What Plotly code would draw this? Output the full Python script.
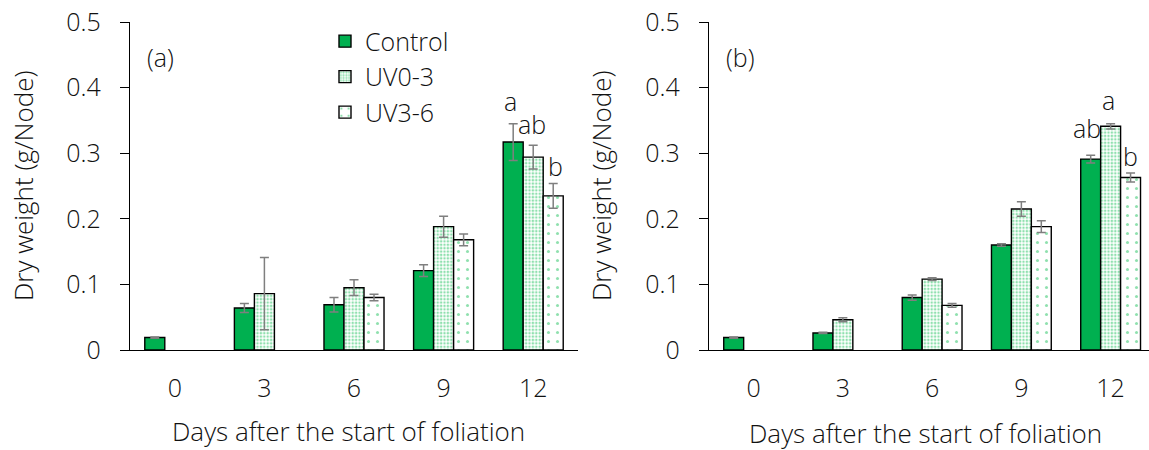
import plotly.graph_objects as go

days = ["0", "3", "6", "9", "12"]

# Panel (a)
a_control = [0.019, 0.064, 0.069, 0.121, 0.317]
a_control_err = [0.001, 0.007, 0.011, 0.009, 0.028]
a_uv03 = [None, 0.086, 0.095, 0.188, 0.294]
a_uv03_err = [0, 0.055, 0.012, 0.016, 0.018]
a_uv36 = [None, None, 0.080, 0.168, 0.235]
a_uv36_err = [0, 0, 0.005, 0.009, 0.019]

# Panel (b)
b_control = [0.019, 0.026, 0.080, 0.160, 0.291]
b_control_err = [0.001, 0.001, 0.004, 0.002, 0.006]
b_uv03 = [None, 0.046, 0.108, 0.215, 0.341]
b_uv03_err = [0, 0.003, 0.002, 0.011, 0.004]
b_uv36 = [None, None, 0.068, 0.188, 0.263]
b_uv36_err = [0, 0, 0.003, 0.009, 0.007]

# Significance letters for day 12
a_letters = ["a", "ab", "b"]
b_letters = ["ab", "a", "b"]

GREEN = "#00b050"
DOT = "#1fc25e"
FONT = "Open Sans"
TXT = "#111111"
W, H = 1149, 450
TOP, BOTTOM = 22, 350          # pixel rows of the plot area


def py(pixel_row):
    """Pixel row -> paper y (paper spans the plot area vertically)."""
    return (BOTTOM - pixel_row) / (BOTTOM - TOP)


def font(size):
    return dict(family=FONT, size=size, color=TXT, weight=300)


fig = go.Figure()


def add_panel(xa, ya, ctrl, ctrl_e, uv1, uv1_e, uv2, uv2_e, show_legend):
    common = dict(xaxis=xa, yaxis=ya, marker_line_color="black", marker_line_width=1.4)
    err = dict(type="data", visible=True, color="#7f7f7f", thickness=1.5, width=4.5)
    fig.add_trace(go.Bar(x=days, y=ctrl, name="Control", showlegend=show_legend,
                         marker_color=GREEN, error_y=dict(array=ctrl_e, **err), **common))
    fig.add_trace(go.Bar(x=days, y=uv1, name="UV0-3", showlegend=show_legend,
                         marker=dict(color="white",
                                     pattern=dict(shape=".", fgcolor=DOT, bgcolor="white",
                                                  size=3.4, solidity=0.45)),
                         error_y=dict(array=uv1_e, **err), **common))
    fig.add_trace(go.Bar(x=days, y=uv2, name="UV3-6", showlegend=show_legend,
                         marker=dict(color="white",
                                     pattern=dict(shape=".", fgcolor=DOT, bgcolor="white",
                                                  size=9, solidity=0.09)),
                         error_y=dict(array=uv2_e, **err), **common))


add_panel("x", "y", a_control, a_control_err, a_uv03, a_uv03_err, a_uv36, a_uv36_err, True)
add_panel("x2", "y2", b_control, b_control_err, b_uv03, b_uv03_err, b_uv36, b_uv36_err, False)

xaxis_style = dict(type="category", showline=True, linecolor="black",
                   linewidth=1.4, ticks="", showgrid=False, zeroline=False,
                   ticklabelstandoff=16, tickfont=font(25))
yaxis_style = dict(range=[0, 0.5], dtick=0.1, tickformat="~g", showline=True, linecolor="black",
                   linewidth=1.4, ticks="outside", ticklen=9, tickcolor="black", tickwidth=1.4,
                   showgrid=False, zeroline=False, ticklabelstandoff=14,
                   tickfont=font(25))

annotations = []

# Day-12 letters: anchored on each bar's error-bar top, nudged in pixels
a_tops = [a_control[4] + a_control_err[4], a_uv03[4] + a_uv03_err[4], a_uv36[4] + a_uv36_err[4]]
b_tops = [b_control[4] + b_control_err[4], b_uv03[4] + b_uv03_err[4], b_uv36[4] + b_uv36_err[4]]
a_nudge = [(-23, 4), (-1, 2), (22, -2)]
b_nudge = [(-24, 8), (-2, 5), (20, -2)]
for letters, tops, nudge, xr, yr in ((a_letters, a_tops, a_nudge, "x", "y"),
                                     (b_letters, b_tops, b_nudge, "x2", "y2")):
    for letter, top, (dx, dy) in zip(letters, tops, nudge):
        annotations.append(dict(x=4, y=top, xref=xr, yref=yr, text=letter, showarrow=False,
                                xshift=dx, yshift=dy, xanchor="center", yanchor="bottom",
                                font=font(25)))

annotations += [
    dict(x=145 / W, y=py(57), xref="paper", yref="paper", text="(a)", showarrow=False,
         xanchor="left", yanchor="middle", font=font(25)),
    dict(x=724 / W, y=py(57), xref="paper", yref="paper", text="(b)", showarrow=False,
         xanchor="left", yanchor="middle", font=font(25)),
    dict(x=348 / W, y=py(431), xref="paper", yref="paper",
         text="Days after the start of foliation", showarrow=False,
         xanchor="center", yanchor="middle", font=font(26)),
    dict(x=925 / W, y=py(433), xref="paper", yref="paper",
         text="Days after the start of foliation", showarrow=False,
         xanchor="center", yanchor="middle", font=font(26)),
    dict(x=23 / W, y=py(186), xref="paper", yref="paper",
         text="Dry weight (g/Node)", showarrow=False, textangle=-90,
         xanchor="center", yanchor="middle", font=font(26)),
    dict(x=601 / W, y=py(186), xref="paper", yref="paper",
         text="Dry weight (g/Node)", showarrow=False, textangle=-90,
         xanchor="center", yanchor="middle", font=font(26)),
]

fig.update_layout(
    width=W, height=H,
    margin=dict(l=0, r=0, t=TOP, b=H - BOTTOM),
    paper_bgcolor="white", plot_bgcolor="white",
    barmode="group", bargap=0.33, bargroupgap=0,
    xaxis=dict(domain=[130 / W, 578 / W], anchor="y", range=[-0.5, 4.5], **xaxis_style),
    yaxis=dict(domain=[0, 1], anchor="x", **yaxis_style),
    # right panel runs past the page edge
    xaxis2=dict(domain=[709 / W, 1.0], anchor="y2", range=[-0.5, 4.43], **xaxis_style),
    yaxis2=dict(domain=[0, 1], anchor="x2", **yaxis_style),
    legend=dict(x=325 / W, y=1.011, xanchor="left", yanchor="top",
                bgcolor="rgba(0,0,0,0)", font=font(25),
                tracegroupgap=0, itemwidth=30),
    annotations=annotations,
    showlegend=True,
)

fig.write_html("out.html")
